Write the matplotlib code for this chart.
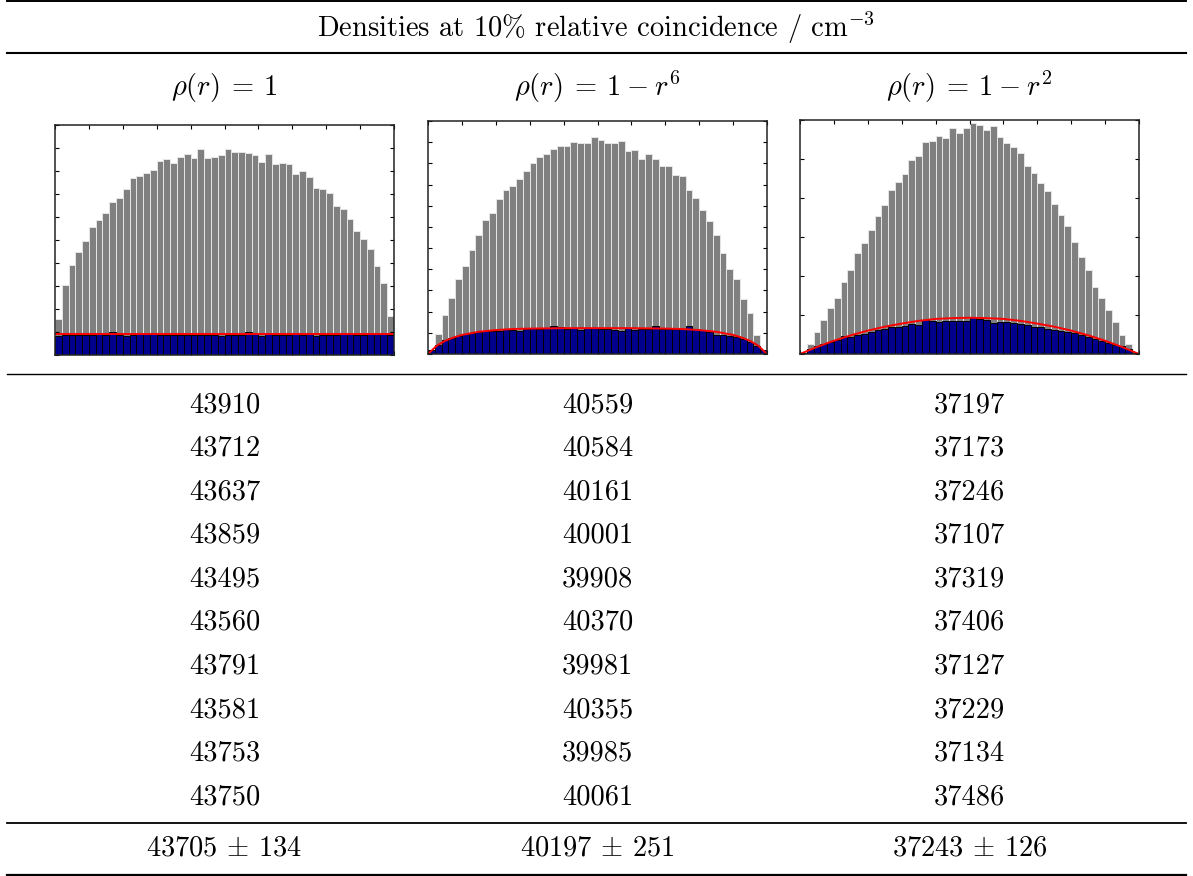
import matplotlib
matplotlib.use('Agg')
import matplotlib.pyplot as plt
import numpy as np

plt.rcParams['mathtext.fontset'] = 'cm'
plt.rcParams['font.family'] = 'cmr10'
plt.rcParams['axes.formatter.use_mathtext'] = True

title = 'Densities at 10% relative coincidence / cm$^{-3}$'
headers = [r'$\rho(r) \:=\: 1$', r'$\rho(r) \:=\: 1 \:-\: r^6$', r'$\rho(r) \:=\: 1 \:-\: r^2$']

dens_flat = [43910, 43712, 43637, 43859, 43495, 43560, 43791, 43581, 43753, 43750]
dens_r6 = [40559, 40584, 40161, 40001, 39908, 40370, 39981, 40355, 39985, 40061]
dens_r2 = [37197, 37173, 37246, 37107, 37319, 37406, 37127, 37229, 37134, 37486]
summary = ['43705 $\\pm$ 134', '40197 $\\pm$ 251', '37243 $\\pm$ 126']

# histograms (arbitrary units, 50 bins on 0..10)
gray_flat = [1.58, 3.04, 3.93, 4.48, 4.97, 5.55, 5.88, 6.19, 6.65, 6.84,
             7.22, 7.71, 7.80, 7.93, 8.03, 8.45, 8.51, 8.33, 8.62, 8.72,
             8.58, 8.96, 8.55, 8.62, 8.68, 8.96, 8.84, 8.84, 8.77, 8.70,
             8.39, 8.75, 8.32, 8.35, 8.29, 7.86, 8.01, 7.75, 7.28, 7.23,
             7.06, 6.49, 6.36, 5.93, 5.38, 5.06, 4.62, 3.86, 3.14, 1.68]
blue_flat = [0.84, 0.87, 0.86, 0.86, 0.85, 0.86, 0.95, 0.85, 0.99, 0.86,
             0.84, 0.86, 0.94, 0.95, 0.95, 0.85, 0.86, 0.86, 0.85, 0.86,
             0.86, 0.87, 0.86, 0.86, 0.82, 0.86, 0.87, 0.86, 0.98, 0.97,
             0.84, 0.95, 0.86, 0.87, 0.86, 0.94, 0.87, 0.95, 0.84, 0.86,
             0.85, 0.85, 0.94, 0.95, 0.86, 0.86, 0.94, 0.94, 0.97, 0.86]
fit_flat_x = [0, 10]
fit_flat_y = [0.9, 0.9]

gray_r6 = [0.20, 0.94, 1.84, 2.66, 3.52, 4.16, 4.91, 5.63, 6.34, 6.66,
           7.33, 7.73, 7.92, 8.28, 8.63, 9.03, 9.28, 9.42, 9.70, 9.81,
           9.81, 10.03, 9.97, 9.97, 10.23, 10.11, 9.94, 9.94, 10.05, 9.58,
           9.61, 9.20, 9.45, 9.22, 8.86, 8.86, 8.45, 8.42, 7.73, 7.38,
           6.80, 6.30, 5.63, 4.78, 4.03, 3.53, 2.58, 1.92, 0.89, 0.20]
blue_r6 = [0.20, 0.42, 0.64, 0.75, 0.86, 0.94, 0.98, 1.05, 1.08, 1.08,
           1.08, 1.19, 1.14, 1.08, 1.19, 1.22, 1.19, 1.22, 1.31, 1.27,
           1.19, 1.22, 1.13, 1.23, 1.23, 1.19, 1.16, 1.13, 1.08, 1.23,
           1.14, 1.20, 1.20, 1.31, 1.19, 1.19, 1.17, 1.20, 1.31, 1.17,
           1.11, 1.05, 0.91, 0.88, 0.86, 0.80, 0.69, 0.59, 0.36, 0.17]
fit_r6_x = [0, 0.25, 0.5, 0.75, 1, 1.5, 2, 2.5, 3, 4, 5, 6, 7, 7.5, 8, 8.5, 9, 9.25, 9.5, 9.75, 10]
fit_r6_y = [0, 0.38, 0.62, 0.78, 0.9, 1.05, 1.13, 1.18, 1.2, 1.22, 1.22, 1.22, 1.2, 1.18, 1.13,
            1.05, 0.9, 0.78, 0.62, 0.38, 0]

gray_r2 = [0.04, 0.26, 0.56, 0.86, 1.17, 1.44, 1.85, 2.15, 2.60, 2.85,
           3.17, 3.55, 3.82, 4.20, 4.42, 4.61, 4.97, 5.07, 5.44, 5.45,
           5.60, 5.53, 5.80, 5.66, 5.79, 5.92, 5.87, 5.74, 5.84, 5.56,
           5.42, 5.32, 5.15, 4.82, 4.63, 4.38, 4.17, 3.84, 3.56, 3.28,
           2.87, 2.50, 2.15, 1.71, 1.44, 1.13, 0.83, 0.49, 0.25, 0.04]
blue_r2 = [0.03, 0.13, 0.20, 0.26, 0.30, 0.35, 0.47, 0.44, 0.50, 0.52,
           0.56, 0.62, 0.63, 0.68, 0.68, 0.72, 0.77, 0.74, 0.87, 0.85,
           0.83, 0.85, 0.85, 0.85, 0.85, 0.96, 0.89, 0.87, 0.79, 0.82,
           0.82, 0.79, 0.76, 0.74, 0.70, 0.68, 0.65, 0.62, 0.58, 0.56,
           0.54, 0.49, 0.43, 0.38, 0.33, 0.28, 0.23, 0.20, 0.13, 0.03]
fit_r2_x = [0, 0.5, 1, 1.5, 2, 2.5, 3, 3.5, 4, 4.5, 5, 5.5, 6, 6.5, 7, 7.5, 8, 8.5, 9, 9.5, 10]
fit_r2_y = [0, 0.18, 0.34, 0.48, 0.6, 0.7, 0.78, 0.85, 0.9, 0.92, 0.93, 0.92, 0.9, 0.85, 0.78,
            0.7, 0.6, 0.48, 0.34, 0.18, 0]

W, H = 1193, 876
fig = plt.figure(figsize=(W / 100, H / 100), dpi=100)


def fx(x):
    return x / W


def fy(y):
    return 1 - y / H


def hline(y, lw):
    fig.add_artist(plt.Line2D([fx(7), fx(1186)], [fy(y), fy(y)], color='black', lw=lw))


hline(0.8, 1.4)
hline(53, 1.5)
hline(374, 1.0)
hline(823, 1.3)
hline(874.5, 1.6)

fs = 20.5
col_x = [224.5, 597.5, 969.5]
fig.text(fx(596), fy(28), title, ha='center', va='center', fontsize=fs)
for cx, h in zip(col_x, headers):
    fig.text(fx(cx), fy(87), h, ha='center', va='center', fontsize=fs)

for cx, vals in zip(col_x, [dens_flat, dens_r6, dens_r2]):
    for i, v in enumerate(vals):
        fig.text(fx(cx), fy(405 + 43.56 * i), str(v), ha='center', va='center', fontsize=fs)
for cx, s in zip(col_x, summary):
    fig.text(fx(cx), fy(848), s, ha='center', va='center', fontsize=fs)

# mini histograms
boxes = [(55, 394, 125, 355), (428, 767, 121, 354), (800, 1139, 120, 354)]
ylims = [10, 11, 6]
grays = [gray_flat, gray_r6, gray_r2]
blues = [blue_flat, blue_r6, blue_r2]
fits = [(fit_flat_x, fit_flat_y), (fit_r6_x, fit_r6_y), (fit_r2_x, fit_r2_y)]
centers = np.arange(50) * 0.2 + 0.1

for (x0, x1, y0, y1), ymax, g, b, (rx, ry) in zip(boxes, ylims, grays, blues, fits):
    ax = fig.add_axes([fx(x0), fy(y1), (x1 - x0) / W, (y1 - y0) / H])
    ax.bar(centers, g, width=0.2, color='#808080', edgecolor='#e6e6e6', linewidth=0.7)
    ax.bar(centers, b, width=0.2, color='#00008c', edgecolor='black', linewidth=0.7)
    ax.plot(rx, ry, color='red', lw=1.4)
    ax.set_xlim(0, 10)
    ax.set_ylim(0, ymax)
    ax.set_xticks(np.arange(0, 11, 1))
    ax.set_yticks(np.arange(0, ymax + 1, 1))
    ax.tick_params(direction='in', length=3, width=0.8, top=True, right=True,
                   labelbottom=False, labelleft=False)
    for sp in ax.spines.values():
        sp.set_linewidth(1.1)
        sp.set_color('#222222')

fig.savefig('out.png', dpi=100)
